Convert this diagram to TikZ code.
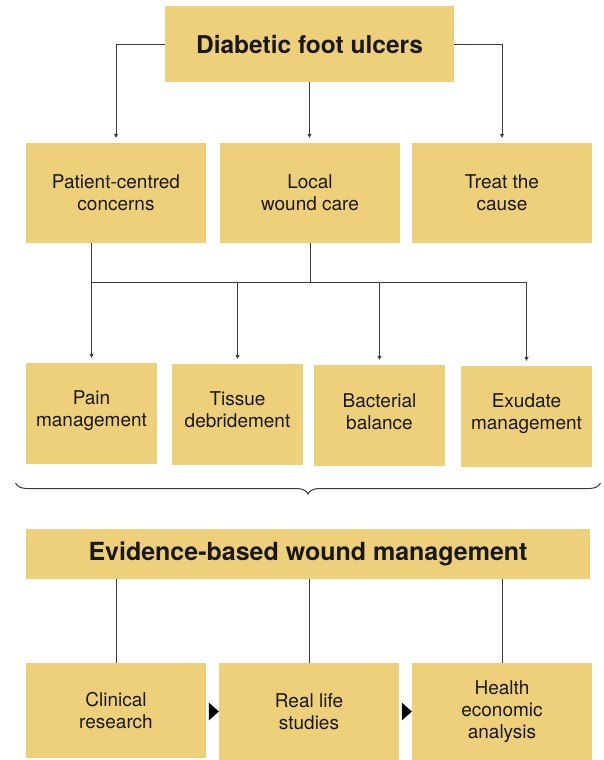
\documentclass[tikz,border=0pt]{standalone}
\usepackage{fontspec}
\setmainfont{TeX Gyre Heros}
\usetikzlibrary{arrows.meta,decorations.pathreplacing,calc}
\definecolor{boxfill}{RGB}{238,208,123}
\definecolor{linec}{RGB}{60,60,60}
\definecolor{txt}{RGB}{25,25,25}
\tikzset{
  box/.style={fill=boxfill, draw=none, inner sep=0pt, align=center, text=txt,
    font=\fontsize{19}{22}\selectfont},
  titlebox/.style={box, font=\fontsize{24.5}{28}\bfseries\selectfont},
  evbox/.style={box, font=\fontsize{25}{28}\bfseries\selectfont},
  conn/.style={draw=linec, line width=0.8pt},
  arr/.style={conn, -{Triangle[length=4pt,width=4pt]}, shorten >=5pt},
}
\begin{document}
\begin{tikzpicture}[x=1pt,y=-1pt]
\useasboundingbox (0,0) rectangle (603,760);
% top
\node[titlebox, minimum width=289pt, minimum height=76pt] (top) at (309.5,44) {Diabetic foot ulcers};
% level 2
\node[box, minimum width=180pt, minimum height=100pt] (pc) at (116,193) {Patient-centred\\concerns};
\node[box, minimum width=180pt, minimum height=100pt] (lc) at (310,193) {Local\\wound care};
\node[box, minimum width=180pt, minimum height=100pt] (tc) at (502,193) {Treat the\\cause};
% level 3
\node[box, minimum width=131pt, minimum height=101pt] (pm) at (91.5,413.5) {Pain\\management\rule[-10pt]{0pt}{0pt}};
\node[box, minimum width=131pt, minimum height=101pt] (td) at (237.5,414.5) {Tissue\\debridement\rule[-10pt]{0pt}{0pt}};
\node[box, minimum width=131pt, minimum height=101pt] (bb) at (379.5,415.5) {Bacterial\\balance\rule[-8pt]{0pt}{0pt}};
\node[box, minimum width=131pt, minimum height=101pt] (em) at (526.5,416.5) {Exudate\\management\rule[-10pt]{0pt}{0pt}};
% evidence
\node[evbox, minimum width=564pt, minimum height=50pt] (ev) at (308,554) {Evidence-based wound management};
% bottom
\node[box, minimum width=180pt, minimum height=95pt] (cr) at (116,710.5) {Clinical\\research};
\node[box, minimum width=180pt, minimum height=97pt] (rl) at (309,711.5) {Real life\\studies};
\node[box, minimum width=180pt, minimum height=97pt] (he) at (502,711.5) {Health\\economic\\analysis};

% top connectors
\draw[arr] (top.west) -| (pc.north);
\draw[arr] (top.east) -| (tc.north);
\draw[arr] (top.south) -- (top.south|-lc.north);
% bus
\coordinate (bus) at (0,282);
\draw[conn] (pm.north|-pc.south) -- (pm.north|-bus) -- (em.north|-bus);
\draw[conn] (lc.south) -- (lc.south|-bus);
\draw[arr] (pm.north|-bus) -- (pm.north);
\draw[arr] (td.north|-bus) -- (td.north);
\draw[arr] (bb.north|-bus) -- (bb.north);
\draw[arr] (em.north|-bus) -- (em.north);
% brace
\coordinate (bl) at (15.5,483);
\coordinate (br) at (600.5,483);
\draw[draw=linec, line width=1pt, decorate, decoration={brace, mirror, amplitude=11pt}] (bl) -- (br);
% evidence to bottom
\draw[conn] (ev.south-|cr.north) -- (cr.north);
\draw[conn] (ev.south-|rl.north) -- (rl.north);
\draw[conn] (ev.south-|he.north) -- (he.north);
% triangles
\fill[black] ($(rl.west)+(-10,-9)$) -- ($(rl.west)+(0,0)$) -- ($(rl.west)+(-10,9)$) -- cycle;
\fill[black] ($(he.west)+(-10,-9)$) -- ($(he.west)+(0,0)$) -- ($(he.west)+(-10,9)$) -- cycle;
\end{tikzpicture}
\end{document}
